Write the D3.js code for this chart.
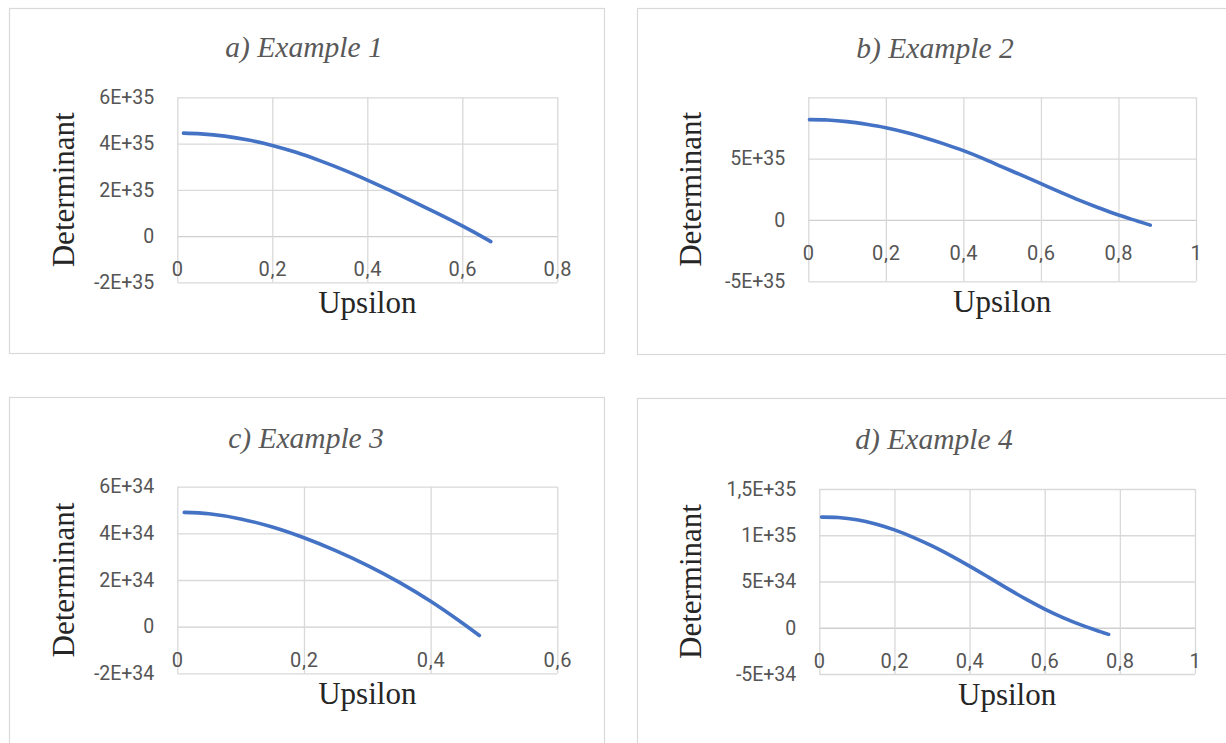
<!DOCTYPE html>
<html><head><meta charset="utf-8">
<script src="https://cdn.jsdelivr.net/npm/d3@7"></script>
<style>html,body{margin:0;padding:0;background:#fff;overflow:hidden}</style>
</head><body><svg id="c" width="1226" height="743"></svg>
<script>
// ---------- data ----------
const titles = ["a) Example 1", "b) Example 2", "c) Example 3", "d) Example 4"];
const xAxisTitle = "Upsilon";
const yAxisTitle = "Determinant";

const xTicksA = [0, 0.2, 0.4, 0.6, 0.8];
const xTicksB = [0, 0.2, 0.4, 0.6, 0.8, 1];
const xTicksC = [0, 0.2, 0.4, 0.6];
const xTicksD = [0, 0.2, 0.4, 0.6, 0.8, 1];
const xLabelsA = ["0", "0,2", "0,4", "0,6", "0,8"];
const xLabelsB = ["0", "0,2", "0,4", "0,6", "0,8", "1"];
const xLabelsC = ["0", "0,2", "0,4", "0,6"];
const xLabelsD = ["0", "0,2", "0,4", "0,6", "0,8", "1"];

const yTicksA = [-2e35, 0, 2e35, 4e35, 6e35];
const yTicksB = [-5e35, 0, 5e35, 1e36];
const yTicksC = [-2e34, 0, 2e34, 4e34, 6e34];
const yTicksD = [-5e34, 0, 5e34, 1e35, 1.5e35];
const yLabelsA = ["-2E+35", "0", "2E+35", "4E+35", "6E+35"];
const yLabelsB = ["-5E+35", "0", "5E+35", ""];
const yLabelsC = ["-2E+34", "0", "2E+34", "4E+34", "6E+34"];
const yLabelsD = ["-5E+34", "0", "5E+34", "1E+35", "1,5E+35"];

// Example 1 (values x 1E+35)
const upsA = [0.013, 0.05, 0.1, 0.15, 0.2, 0.25, 0.3, 0.35, 0.4, 0.45, 0.5, 0.55, 0.6, 0.65, 0.66];
const detA = [4.45, 4.42, 4.32, 4.15, 3.92, 3.62, 3.26, 2.86, 2.42, 1.95, 1.46, 0.96, 0.44, -0.12, -0.24];
// Example 2 (values x 1E+35)
const upsB = [0.003, 0.05, 0.1, 0.15, 0.2, 0.25, 0.3, 0.35, 0.4, 0.45, 0.5, 0.55, 0.6, 0.65, 0.7, 0.75, 0.8, 0.85, 0.882];
const detB = [8.18, 8.15, 8.02, 7.80, 7.52, 7.15, 6.70, 6.20, 5.65, 5.02, 4.33, 3.65, 2.96, 2.27, 1.60, 0.98, 0.40, -0.10, -0.42];
// Example 3 (values x 1E+34)
const upsC = [0.011, 0.05, 0.1, 0.15, 0.2, 0.25, 0.3, 0.35, 0.4, 0.45, 0.477];
const detC = [4.90, 4.84, 4.62, 4.27, 3.81, 3.26, 2.63, 1.91, 1.09, 0.16, -0.38];
// Example 4 (values x 1E+34)
const upsD = [0.006, 0.05, 0.1, 0.15, 0.2, 0.25, 0.3, 0.35, 0.4, 0.45, 0.5, 0.55, 0.6, 0.65, 0.7, 0.75, 0.77];
const detD = [11.96, 11.92, 11.68, 11.22, 10.58, 9.78, 8.85, 7.80, 6.66, 5.47, 4.26, 3.09, 2.02, 1.07, 0.25, -0.45, -0.72];
const unitA = 1e35, unitB = 1e35, unitC = 1e34, unitD = 1e34;

// ---------- layout ----------
const panels = [
  {frame:[9.5,8.5,595,345], plot:[177.3,97.3,557.3,282.3], titleXY:[304,57], yTitleX:74,
   xT:xTicksA, xL:xLabelsA, yT:yTicksA, yL:yLabelsA, ups:upsA, det:detA, unit:unitA},
  {frame:[637.5,8.5,620,346], plot:[808.3,97.3,1196,281.3], titleXY:[935,58], yTitleX:701,
   xT:xTicksB, xL:xLabelsB, yT:yTicksB, yL:yLabelsB, ups:upsB, det:detB, unit:unitB},
  {frame:[9.5,397.5,595,370], plot:[177.3,486.7,557.3,673.3], titleXY:[306,448], yTitleX:74,
   xT:xTicksC, xL:xLabelsC, yT:yTicksC, yL:yLabelsC, ups:upsC, det:detC, unit:unitC},
  {frame:[637.5,398.5,620,370], plot:[819.3,489,1195,674], titleXY:[934,449], yTitleX:701,
   xT:xTicksD, xL:xLabelsD, yT:yTicksD, yL:yLabelsD, ups:upsD, det:detD, unit:unitD}
];

const svg = d3.select("#c");
const tickFont = "Roboto, 'Open Sans', sans-serif";
const serif = "'Liberation Serif', 'DejaVu Serif', serif";
const gridColor = "#d9d9d9";

panels.forEach((p, i) => {
  const g = svg.append("g");
  g.append("rect").attr("x", p.frame[0]).attr("y", p.frame[1])
    .attr("width", p.frame[2]).attr("height", p.frame[3])
    .attr("fill", "#fff").attr("stroke", "#d9d9d9").attr("stroke-width", 1.2);

  const [x0, y0, x1, y1] = p.plot;
  const x = d3.scaleLinear().domain([p.xT[0], p.xT[p.xT.length-1]]).range([x0, x1]);
  const y = d3.scaleLinear().domain([p.yT[0], p.yT[p.yT.length-1]]).range([y1, y0]);

  // horizontal gridlines + y labels
  const ya = g.append("g").attr("transform", `translate(${x0},0)`)
    .call(d3.axisLeft(y).tickValues(p.yT).tickSize(-(x1 - x0)).tickPadding(23)
      .tickFormat((d, k) => p.yL[k]));
  ya.select(".domain").remove();
  ya.selectAll(".tick line").attr("stroke", (d) => d === 0 ? "#cfcfcf" : gridColor).attr("stroke-width", 1.3);
  ya.selectAll(".tick text").attr("font-family", tickFont).attr("font-size", 19.5).attr("fill", "#555");

  // vertical gridlines
  const xg = g.append("g").attr("transform", `translate(0,${y1})`)
    .call(d3.axisBottom(x).tickValues(p.xT).tickSize(-(y1 - y0)).tickFormat(""));
  xg.select(".domain").remove();
  xg.selectAll(".tick line").attr("stroke", gridColor).attr("stroke-width", 1.3);

  // x labels next to the zero axis
  const xa = g.append("g").attr("transform", `translate(0,${y(0)})`)
    .call(d3.axisBottom(x).tickValues(p.xT).tickSize(0).tickPadding(26)
      .tickFormat((d, k) => p.xL[k]));
  xa.select(".domain").remove();
  xa.selectAll(".tick text").attr("font-family", tickFont).attr("font-size", 20).attr("fill", "#555")
    .attr("letter-spacing", 0.8);

  // line
  const pts = p.ups.map((u, k) => [u, p.det[k] * p.unit]);
  g.append("path").datum(pts)
    .attr("d", d3.line().x(d => x(d[0])).y(d => y(d[1])).curve(d3.curveCatmullRom))
    .attr("fill", "none").attr("stroke", "#4472c4").attr("stroke-width", 3.6)
    .attr("stroke-linecap", "round");

  // title
  g.append("text").attr("x", p.titleXY[0]).attr("y", p.titleXY[1])
    .attr("text-anchor", "middle").attr("font-family", serif).attr("font-style", "italic")
    .attr("font-size", 29.5).attr("fill", "#595959").text(titles[i]);

  // axis titles
  g.append("text").attr("x", (x0 + x1) / 2).attr("y", y1 + 31)
    .attr("text-anchor", "middle").attr("font-family", serif)
    .attr("font-size", 31).attr("fill", "#262626").text(xAxisTitle);
  g.append("text").attr("transform", `translate(${p.yTitleX},${(y0 + y1) / 2}) rotate(-90)`)
    .attr("text-anchor", "middle").attr("font-family", serif)
    .attr("font-size", 31).attr("fill", "#262626").text(yAxisTitle);
});
</script>
</body></html>
